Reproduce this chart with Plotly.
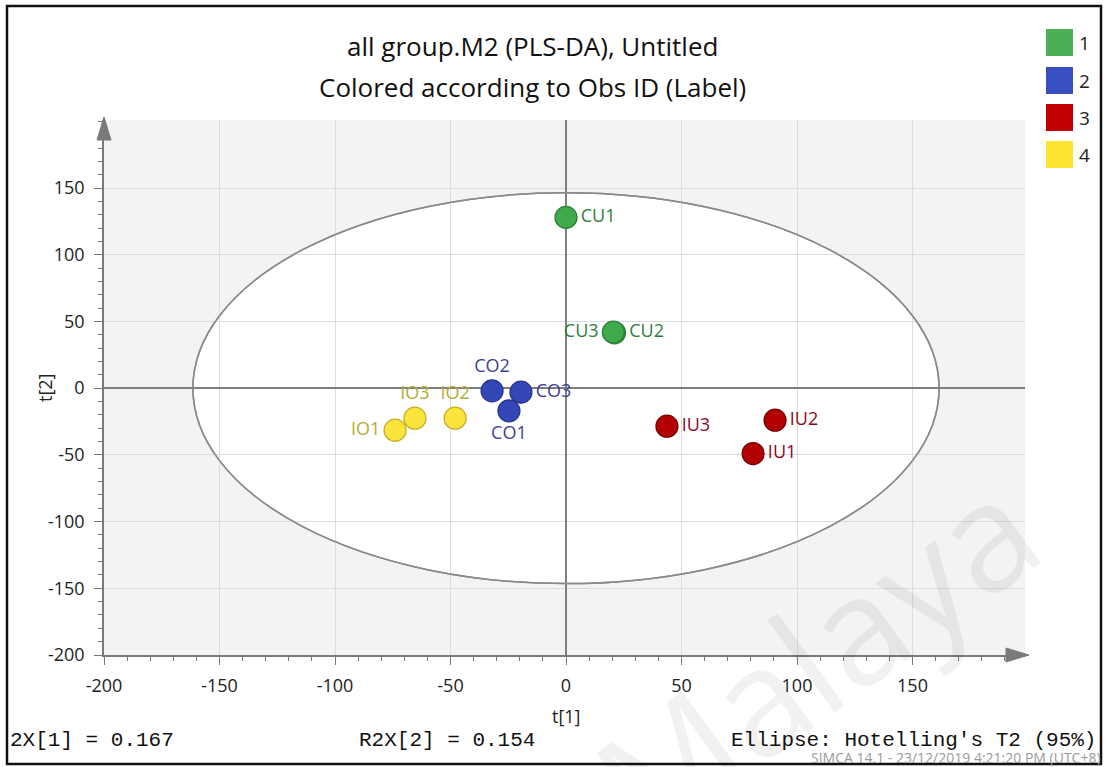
import plotly.graph_objects as go

# ---------------- data ----------------
obs_labels = ["CU1", "CU2", "CU3", "CO1", "CO2", "CO3", "IO1", "IO2", "IO3", "IU1", "IU2", "IU3"]
obs_group = [1, 1, 1, 2, 2, 2, 4, 4, 4, 3, 3, 3]
t1_values = [0.0, 21.0, 20.5, -24.7, -32.0, -19.5, -74.0, -48.0, -65.4, 81.0, 90.5, 43.7]
t2_values = [128.0, 41.5, 42.0, -17.0, -2.0, -3.0, -31.5, -22.5, -22.5, -49.0, -24.0, -28.5]
label_pos = ["middle right", "middle right", "middle left", "bottom center", "top center",
             "middle right", "middle left", "top center", "top center", "middle right",
             "middle right", "middle right"]

groups = [1, 2, 3, 4]
group_fill = {1: "#3FAA4B", 2: "#3447B6", 3: "#B20000", 4: "#FBE43C"}
group_edge = {1: "#2B7F36", 2: "#26348A", 3: "#760000", 4: "#C5AE22"}
group_text = {1: "#2F7F3A", 2: "#3B3F98", 3: "#8A0A1C", 4: "#B3AC32"}
legend_fill = {1: "#4CAF55", 2: "#3A4FBF", 3: "#C00000", 4: "#FDE530"}

ellipse_a = 161.5   # Hotelling's T2 (95%) semi-axis t[1]
ellipse_b = 146.5   # semi-axis t[2]

x_ticks = [-200, -150, -100, -50, 0, 50, 100, 150]
x_tick_text = ["-200", "-150", "-100", "-50", "0", "50", "100", "150"]
y_ticks = [-200, -150, -100, -50, 0, 50, 100, 150]
y_tick_text = ["-200", "-150", "-100", "-50", "0", "50", "100", "150"]

title_1 = "all group.M2 (PLS-DA), Untitled"
title_2 = "Colored according to Obs ID (Label)"
footer_r2x1 = "2X[1] = 0.167"
footer_r2x2 = "R2X[2] = 0.154"
footer_ellipse = "Ellipse: Hotelling's T2 (95%)"
footer_simca = "SIMCA 14.1 - 23/12/2019 4:21:20 PM (UTC+8)"

# ---------------- layout geometry (pixels) ----------------
W, H = 1105, 767
L, R, T, B = 104, 1025, 120, 655


def px(xp):
    return (xp - L) / (R - L)


def py(yp):
    return (B - yp) / (B - T)


FONT = "Open Sans, sans-serif"
fig = go.Figure()

for g in groups:
    idx = [i for i, gg in enumerate(obs_group) if gg == g]
    fig.add_trace(go.Scatter(
        x=[t1_values[i] for i in idx],
        y=[t2_values[i] for i in idx],
        mode="markers+text",
        text=[obs_labels[i] for i in idx],
        textposition=[label_pos[i] for i in idx],
        textfont=dict(family=FONT, size=18, color=group_text[g]),
        marker=dict(size=22, color=group_fill[g], line=dict(color=group_edge[g], width=1.2)),
        showlegend=False,
        cliponaxis=False,
    ))

shapes = []
shapes.append(dict(type="circle", xref="x", yref="y",
                   x0=-ellipse_a, x1=ellipse_a, y0=-ellipse_b, y1=ellipse_b,
                   fillcolor="white", line=dict(color="#8a8a8a", width=1.5), layer="below"))
shapes.append(dict(type="circle", xref="x", yref="y",
                   x0=-ellipse_a, x1=ellipse_a, y0=-ellipse_b, y1=ellipse_b,
                   line=dict(color="#8a8a8a", width=1.5), layer="between"))
ax_col = "#7a7a7a"
shapes.append(dict(type="path", xref="paper", yref="paper",
                   path=f"M {px(104)} {py(117)} L {px(97)} {py(140)} L {px(111)} {py(140)} Z",
                   fillcolor=ax_col, line=dict(color=ax_col, width=1)))
shapes.append(dict(type="path", xref="paper", yref="paper",
                   path=f"M {px(1029)} {py(655)} L {px(1006)} {py(648)} L {px(1006)} {py(662)} Z",
                   fillcolor=ax_col, line=dict(color=ax_col, width=1)))
shapes.append(dict(type="rect", xref="paper", yref="paper",
                   x0=px(7), x1=px(1101), y0=py(764), y1=py(6),
                   line=dict(color="#111111", width=2.5), layer="above"))
leg_y = [29, 67, 104, 141]
for g, yy in zip(groups, leg_y):
    shapes.append(dict(type="rect", xref="paper", yref="paper",
                       x0=px(1046), x1=px(1073), y0=py(yy + 27), y1=py(yy),
                       fillcolor=legend_fill[g], line=dict(width=0)))

annotations = []
for g, yy in zip(groups, leg_y):
    annotations.append(dict(xref="paper", yref="paper", x=px(1077), y=py(yy + 14),
                            text=str(g), showarrow=False, xanchor="left", yanchor="middle",
                            font=dict(family=FONT, size=19, color="#222")))
annotations += [
    dict(xref="paper", yref="paper", x=px(532), y=py(46), text=title_1, showarrow=False,
         xanchor="center", yanchor="middle", font=dict(family=FONT, size=26, color="#111")),
    dict(xref="paper", yref="paper", x=px(532), y=py(87), text=title_2, showarrow=False,
         xanchor="center", yanchor="middle", font=dict(family=FONT, size=26, color="#111")),
    dict(xref="paper", yref="paper", x=px(566), y=py(716), text="t[1]", showarrow=False,
         xanchor="center", yanchor="middle", font=dict(family=FONT, size=18, color="#222")),
    dict(xref="paper", yref="paper", x=px(45), y=py(388), text="t[2]", showarrow=False, textangle=-90,
         xanchor="center", yanchor="middle", font=dict(family=FONT, size=18, color="#222")),
    dict(xref="paper", yref="paper", x=px(8), y=py(740), text=footer_r2x1, showarrow=False,
         xanchor="left", yanchor="middle", font=dict(family="Liberation Mono, monospace", size=21, color="#111")),
    dict(xref="paper", yref="paper", x=px(357), y=py(740), text=footer_r2x2, showarrow=False,
         xanchor="left", yanchor="middle", font=dict(family="Liberation Mono, monospace", size=21, color="#111")),
    dict(xref="paper", yref="paper", x=px(1098), y=py(740), text=footer_ellipse, showarrow=False,
         xanchor="right", yanchor="middle", font=dict(family="Liberation Mono, monospace", size=21, color="#111")),
    dict(xref="paper", yref="paper", x=px(1103), y=py(757), text=footer_simca, showarrow=False,
         xanchor="right", yanchor="middle", font=dict(family=FONT, size=14, color="#9a9a9a")),
    dict(xref="paper", yref="paper", x=px(815), y=py(655), text="Malaya", showarrow=False, textangle=-36,
         xanchor="center", yanchor="middle", font=dict(family=FONT, size=150, color="rgba(0,0,0,0.055)")),
]

axis_common = dict(
    showgrid=True, gridcolor="#dcdcdc", gridwidth=1,
    zeroline=True, zerolinecolor="#7f7f7f", zerolinewidth=1.5,
    showline=True, linecolor=ax_col, linewidth=1.5,
    ticks="outside", ticklen=8, tickcolor=ax_col, tickwidth=1,
    tickfont=dict(family=FONT, size=18, color="#222"),
    minor=dict(dtick=10, ticks="outside", ticklen=4, tickcolor=ax_col, showgrid=False),
    fixedrange=True,
)

fig.update_layout(
    width=W, height=H,
    margin=dict(l=L, r=W - R, t=T, b=H - B, pad=0),
    paper_bgcolor="white", plot_bgcolor="#f3f3f3",
    xaxis=dict(range=[-200, 198.7], tickvals=x_ticks, ticktext=x_tick_text, ticklabelstandoff=6, **axis_common),
    yaxis=dict(range=[-200, 201], tickvals=y_ticks, ticktext=y_tick_text, ticklabelstandoff=6, **axis_common),
    shapes=shapes, annotations=annotations,
    showlegend=False,
)

fig.write_html("out.html", config={"displayModeBar": False},
               post_script="document.body.style.margin='0px';document.body.style.overflow='hidden';")
